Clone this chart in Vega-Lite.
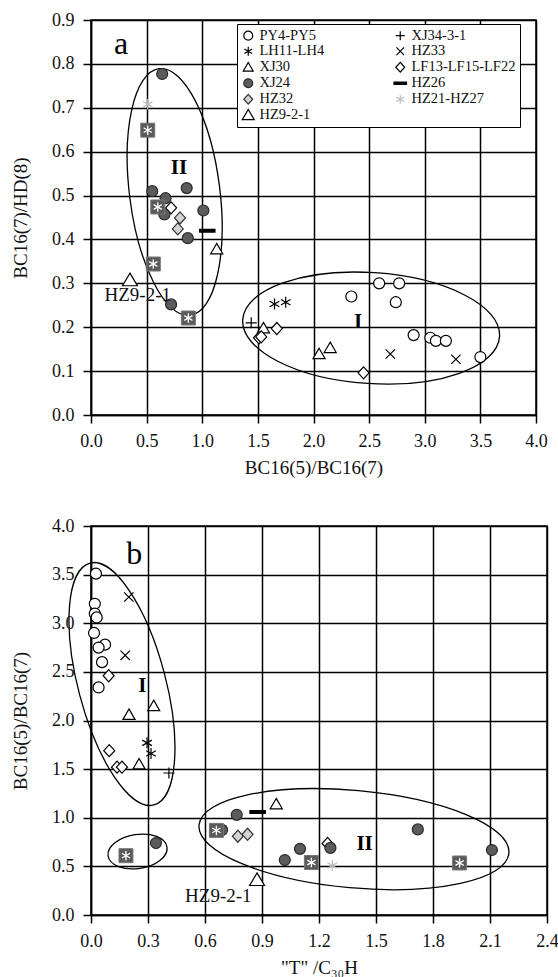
{
  "$schema": "https://vega.github.io/schema/vega-lite/v6.json",
  "padding": {"left": 10, "top": 10, "right": 0, "bottom": 5},
  "spacing": 38,
  "config": {
    "font": "Liberation Serif",
    "view": {"stroke": "black", "strokeWidth": 1.5},
    "axis": {"domainColor": "black", "domainWidth": 1.5, "tickColor": "black", "tickWidth": 1.5, "tickSize": 8, "grid": true, "gridColor": "black", "gridWidth": 1.5, "gridOpacity": 1, "labelFont": "Liberation Serif", "labelFontSize": 18, "labelColor": "#111111", "labelPadding": 9, "labelFlush": false, "labelOverlap": false, "titleFont": "Liberation Serif", "titleFontSize": 19, "titleFontWeight": "normal", "titleColor": "#111111"},
    "axisY": {"titlePadding": 21.5},
    "axisX": {"titlePadding": 8},
    "legend": {"labelFont": "Liberation Serif", "rowPadding": 0, "labelFontSize": 14.5}
  },
  "datasets": {
    "pts": [
      {"p": "a", "s": "PY4-PY5", "x": 2.34, "y": 0.27},
      {"p": "a", "s": "PY4-PY5", "x": 2.59, "y": 0.30},
      {"p": "a", "s": "PY4-PY5", "x": 2.77, "y": 0.30},
      {"p": "a", "s": "PY4-PY5", "x": 2.74, "y": 0.257},
      {"p": "a", "s": "PY4-PY5", "x": 2.90, "y": 0.182},
      {"p": "a", "s": "PY4-PY5", "x": 3.05, "y": 0.176},
      {"p": "a", "s": "PY4-PY5", "x": 3.10, "y": 0.169},
      {"p": "a", "s": "PY4-PY5", "x": 3.19, "y": 0.169},
      {"p": "a", "s": "PY4-PY5", "x": 3.50, "y": 0.132},
      {"p": "a", "s": "LH11-LH4", "x": 1.65, "y": 0.253},
      {"p": "a", "s": "LH11-LH4", "x": 1.75, "y": 0.257},
      {"p": "a", "s": "XJ30", "x": 1.13, "y": 0.378},
      {"p": "a", "s": "XJ30", "x": 1.55, "y": 0.198},
      {"p": "a", "s": "XJ30", "x": 2.05, "y": 0.139},
      {"p": "a", "s": "XJ30", "x": 2.15, "y": 0.153},
      {"p": "a", "s": "LF13-LF15-LF22", "x": 0.72, "y": 0.472},
      {"p": "a", "s": "LF13-LF15-LF22", "x": 1.51, "y": 0.176},
      {"p": "a", "s": "LF13-LF15-LF22", "x": 1.53, "y": 0.178},
      {"p": "a", "s": "LF13-LF15-LF22", "x": 1.67, "y": 0.197},
      {"p": "a", "s": "LF13-LF15-LF22", "x": 2.45, "y": 0.096},
      {"p": "a", "s": "HZ32", "x": 0.80, "y": 0.449},
      {"p": "a", "s": "HZ32", "x": 0.78, "y": 0.424},
      {"p": "a", "s": "XJ24", "x": 0.64, "y": 0.777},
      {"p": "a", "s": "XJ24", "x": 0.55, "y": 0.51},
      {"p": "a", "s": "XJ24", "x": 0.67, "y": 0.494},
      {"p": "a", "s": "XJ24", "x": 0.86, "y": 0.517},
      {"p": "a", "s": "XJ24", "x": 1.01, "y": 0.466},
      {"p": "a", "s": "XJ24", "x": 0.66, "y": 0.457},
      {"p": "a", "s": "XJ24", "x": 0.87, "y": 0.403},
      {"p": "a", "s": "XJ24", "x": 0.72, "y": 0.252},
      {"p": "a", "s": "HZ9-2-1", "x": 0.35, "y": 0.307},
      {"p": "a", "s": "XJ34-3-1", "x": 1.44, "y": 0.21},
      {"p": "a", "s": "HZ33", "x": 2.69, "y": 0.139},
      {"p": "a", "s": "HZ33", "x": 3.28, "y": 0.127},
      {"p": "a", "s": "HZ26", "x": 1.045, "y": 0.42},
      {"p": "a", "s": "HZ21-HZ27", "x": 0.51, "y": 0.708},
      {"p": "a", "s": "S", "x": 0.51, "y": 0.649},
      {"p": "a", "s": "S", "x": 0.60, "y": 0.474},
      {"p": "a", "s": "S", "x": 0.56, "y": 0.344},
      {"p": "a", "s": "S", "x": 0.875, "y": 0.221},
      {"p": "b", "s": "PY4-PY5", "x": 0.026, "y": 3.51},
      {"p": "b", "s": "PY4-PY5", "x": 0.02, "y": 3.20},
      {"p": "b", "s": "PY4-PY5", "x": 0.02, "y": 3.10},
      {"p": "b", "s": "PY4-PY5", "x": 0.03, "y": 3.06},
      {"p": "b", "s": "PY4-PY5", "x": 0.016, "y": 2.90},
      {"p": "b", "s": "PY4-PY5", "x": 0.074, "y": 2.78},
      {"p": "b", "s": "PY4-PY5", "x": 0.04, "y": 2.75},
      {"p": "b", "s": "PY4-PY5", "x": 0.058, "y": 2.60},
      {"p": "b", "s": "PY4-PY5", "x": 0.04, "y": 2.34},
      {"p": "b", "s": "HZ33", "x": 0.199, "y": 3.27},
      {"p": "b", "s": "HZ33", "x": 0.18, "y": 2.67},
      {"p": "b", "s": "LF13-LF15-LF22", "x": 0.093, "y": 2.46},
      {"p": "b", "s": "LF13-LF15-LF22", "x": 0.096, "y": 1.69},
      {"p": "b", "s": "LF13-LF15-LF22", "x": 0.137, "y": 1.52},
      {"p": "b", "s": "LF13-LF15-LF22", "x": 0.163, "y": 1.52},
      {"p": "b", "s": "LF13-LF15-LF22", "x": 1.245, "y": 0.735},
      {"p": "b", "s": "XJ30", "x": 0.2, "y": 2.06},
      {"p": "b", "s": "XJ30", "x": 0.33, "y": 2.15},
      {"p": "b", "s": "XJ30", "x": 0.253, "y": 1.55},
      {"p": "b", "s": "XJ30", "x": 0.975, "y": 1.14},
      {"p": "b", "s": "LH11-LH4", "x": 0.295, "y": 1.77},
      {"p": "b", "s": "LH11-LH4", "x": 0.316, "y": 1.66},
      {"p": "b", "s": "XJ34-3-1", "x": 0.41, "y": 1.46},
      {"p": "b", "s": "HZ32", "x": 0.773, "y": 0.81},
      {"p": "b", "s": "HZ32", "x": 0.824, "y": 0.83},
      {"p": "b", "s": "XJ24", "x": 0.342, "y": 0.74},
      {"p": "b", "s": "XJ24", "x": 0.767, "y": 1.03},
      {"p": "b", "s": "XJ24", "x": 0.69, "y": 0.875},
      {"p": "b", "s": "XJ24", "x": 1.02, "y": 0.565},
      {"p": "b", "s": "XJ24", "x": 1.10, "y": 0.68},
      {"p": "b", "s": "XJ24", "x": 1.26, "y": 0.69},
      {"p": "b", "s": "XJ24", "x": 1.72, "y": 0.88},
      {"p": "b", "s": "XJ24", "x": 2.11, "y": 0.668},
      {"p": "b", "s": "HZ26", "x": 0.877, "y": 1.06},
      {"p": "b", "s": "HZ9-2-1", "x": 0.874, "y": 0.36},
      {"p": "b", "s": "HZ21-HZ27", "x": 1.27, "y": 0.51},
      {"p": "b", "s": "S", "x": 0.184, "y": 0.61},
      {"p": "b", "s": "S", "x": 0.66, "y": 0.87},
      {"p": "b", "s": "S", "x": 1.16, "y": 0.54},
      {"p": "b", "s": "S", "x": 1.94, "y": 0.535}
    ],
    "ell": [
      {"p": "a", "e": "II", "x": 0.752, "y": 0.508},
      {"p": "a", "e": "I", "x": 2.518, "y": 0.198},
      {"p": "b", "e": "I", "x": 0.163, "y": 2.375},
      {"p": "b", "e": "small", "x": 0.245, "y": 0.653},
      {"p": "b", "e": "II", "x": 1.384, "y": 0.78}
    ],
    "notes": [
      {"p": "a", "k": "panel", "t": "a", "x": 0.27, "y": 0.845},
      {"p": "a", "k": "cluster", "t": "II", "x": 0.79, "y": 0.563},
      {"p": "a", "k": "cluster", "t": "I", "x": 2.40, "y": 0.212},
      {"p": "a", "k": "sample", "t": "HZ9-2-1", "x": 0.42, "y": 0.273},
      {"p": "b", "k": "panel", "t": "b", "x": 0.228, "y": 3.71},
      {"p": "b", "k": "cluster", "t": "I", "x": 0.27, "y": 2.35},
      {"p": "b", "k": "cluster", "t": "II", "x": 1.44, "y": 0.73},
      {"p": "b", "k": "sample", "t": "HZ9-2-1", "x": 0.67, "y": 0.195}
    ]
  },
  "resolve": {"scale": {"shape": "independent", "fill": "independent", "stroke": "independent"}, "legend": {"shape": "independent", "fill": "independent", "stroke": "independent"}},
  "vconcat": [
    {
      "width": 445,
      "height": 395,
      "encoding": {
        "x": {"field": "x", "type": "quantitative", "scale": {"domain": [0, 4], "nice": false, "zero": false}, "axis": {"title": "BC16(5)/BC16(7)", "values": [0, 0.5, 1, 1.5, 2, 2.5, 3, 3.5, 4], "format": ".1f", "labelFont": "Liberation Serif", "titleFont": "Liberation Serif"}},
        "y": {"field": "y", "type": "quantitative", "scale": {"domain": [0, 0.9], "nice": false, "zero": false}, "axis": {"title": "BC16(7)/HD(8)", "values": [0, 0.1, 0.2, 0.3, 0.4, 0.5, 0.6, 0.7, 0.8, 0.9], "format": ".1f", "labelFont": "Liberation Serif", "titleFont": "Liberation Serif"}}
      },
      "layer": [
        {
          "data": {"name": "ell"},
          "transform": [{"filter": "datum.p === 'a' && datum.e === 'II'"}],
          "mark": {"type": "point", "filled": false, "fill": "transparent", "stroke": "black", "strokeWidth": 1.3, "opacity": 1, "size": 61802, "angle": 352.8, "shape": "M0,-1C0.2008,-1,0.3636,-0.5523,0.3636,0C0.3636,0.5523,0.2008,1,0,1C-0.2008,1,-0.3636,0.5523,-0.3636,0C-0.3636,-0.5523,-0.2008,-1,0,-1Z"}
        },
        {
          "data": {"name": "ell"},
          "transform": [{"filter": "datum.p === 'a' && datum.e === 'I'"}],
          "mark": {"type": "point", "filled": false, "fill": "transparent", "stroke": "black", "strokeWidth": 1.3, "opacity": 1, "size": 66255, "angle": 3.8, "shape": "M-1,0C-1,-0.2382,-0.5523,-0.4312,0,-0.4312C0.5523,-0.4312,1,-0.2382,1,0C1,0.2382,0.5523,0.4312,0,0.4312C-0.5523,0.4312,-1,0.2382,-1,0Z"}
        },
        {
          "data": {"name": "pts"},
          "transform": [{"filter": "datum.p === 'a' && datum.s !== 'S'"}],
          "mark": {"type": "point", "filled": true, "size": 121, "strokeWidth": 1.2, "opacity": 1},
          "encoding": {
            "shape": {"field": "s", "type": "nominal", "legend": {"title": null, "orient": "none", "legendX": 146, "legendY": 4, "columns": 2, "columnPadding": 66, "rowPadding": 0, "padding": 4, "strokeColor": "black", "fillColor": "white", "labelFont": "Liberation Serif", "labelFontSize": 14.5, "labelColor": "#111111", "labelOffset": 4, "symbolSize": 80, "symbolStrokeWidth": 1.2, "labelLimit": 300}, "scale": {"domain": ["PY4-PY5", "LH11-LH4", "XJ30", "XJ24", "HZ32", "HZ9-2-1", "XJ34-3-1", "HZ33", "LF13-LF15-LF22", "HZ26", "HZ21-HZ27"], "range": ["circle", "M0,-1L0,1M-0.87,-0.5L0.87,0.5M-0.87,0.5L0.87,-0.5", "M0,-1.05L1.1,0.85L-1.1,0.85Z", "circle", "M0,-1.1L1,0L0,1.1L-1,0Z", "M0,-1.3L1.35,1L-1.35,1Z", "M-1,0L1,0M0,-1L0,1", "M-0.85,-0.85L0.85,0.85M-0.85,0.85L0.85,-0.85", "M0,-1.1L1,0L0,1.1L-1,0Z", "M-1.4,-0.25L1.4,-0.25L1.4,0.25L-1.4,0.25Z", "M0,-1L0,1M-0.87,-0.5L0.87,0.5M-0.87,0.5L0.87,-0.5"]}},
            "fill": {"field": "s", "type": "nominal", "legend": {"title": null, "orient": "none", "legendX": 146, "legendY": 4, "columns": 2, "columnPadding": 66, "rowPadding": 0, "padding": 4, "strokeColor": "black", "fillColor": "white", "labelFont": "Liberation Serif", "labelFontSize": 14.5, "labelColor": "#111111", "labelOffset": 4, "symbolSize": 80, "symbolStrokeWidth": 1.2, "labelLimit": 300}, "scale": {"domain": ["PY4-PY5", "LH11-LH4", "XJ30", "XJ24", "HZ32", "HZ9-2-1", "XJ34-3-1", "HZ33", "LF13-LF15-LF22", "HZ26", "HZ21-HZ27"], "range": ["white", "transparent", "white", "#5b5b5b", "#d3d3d3", "white", "transparent", "transparent", "white", "black", "transparent"]}},
            "stroke": {"field": "s", "type": "nominal", "legend": {"title": null, "orient": "none", "legendX": 146, "legendY": 4, "columns": 2, "columnPadding": 66, "rowPadding": 0, "padding": 4, "strokeColor": "black", "fillColor": "white", "labelFont": "Liberation Serif", "labelFontSize": 14.5, "labelColor": "#111111", "labelOffset": 4, "symbolSize": 80, "symbolStrokeWidth": 1.2, "labelLimit": 300}, "scale": {"domain": ["PY4-PY5", "LH11-LH4", "XJ30", "XJ24", "HZ32", "HZ9-2-1", "XJ34-3-1", "HZ33", "LF13-LF15-LF22", "HZ26", "HZ21-HZ27"], "range": ["black", "black", "black", "#2a2a2a", "#333333", "black", "black", "black", "black", "black", "#bdbdbd"]}}
          }
        },
        {
          "data": {"name": "pts"},
          "transform": [{"filter": "datum.p === 'a' && datum.s === 'S'"}],
          "mark": {"type": "point", "filled": true, "shape": "square", "size": 196, "fill": "#5a5a5a", "stroke": "#777777", "strokeWidth": 1, "opacity": 1}
        },
        {
          "data": {"name": "pts"},
          "transform": [{"filter": "datum.p === 'a' && datum.s === 'S'"}],
          "mark": {"type": "point", "filled": false, "fill": "transparent", "shape": "M0,-1L0,1M-0.87,-0.5L0.87,0.5M-0.87,0.5L0.87,-0.5", "size": 90, "stroke": "white", "strokeWidth": 1.3, "opacity": 1}
        },
        {
          "data": {"name": "notes"},
          "transform": [{"filter": "datum.p === 'a' && datum.k === 'panel'"}],
          "mark": {"type": "text", "font": "Liberation Serif", "fontSize": 32, "color": "black"},
          "encoding": {"text": {"field": "t"}}
        },
        {
          "data": {"name": "notes"},
          "transform": [{"filter": "datum.p === 'a' && datum.k === 'cluster'"}],
          "mark": {"type": "text", "font": "Liberation Serif", "fontSize": 21, "fontWeight": "bold", "color": "black"},
          "encoding": {"text": {"field": "t"}}
        },
        {
          "data": {"name": "notes"},
          "transform": [{"filter": "datum.p === 'a' && datum.k === 'sample'"}],
          "mark": {"type": "text", "font": "Liberation Serif", "fontSize": 19, "color": "#111111"},
          "encoding": {"text": {"field": "t"}}
        }
      ]
    },
    {
      "width": 456,
      "height": 389,
      "encoding": {
        "x": {"field": "x", "type": "quantitative", "scale": {"domain": [0, 2.4], "nice": false, "zero": false}, "axis": {"title": "\"T\" /C₃₀H", "values": [0, 0.3, 0.6, 0.9, 1.2, 1.5, 1.8, 2.1, 2.4], "format": ".1f", "labelFont": "Liberation Serif", "titleFont": "Liberation Serif"}},
        "y": {"field": "y", "type": "quantitative", "scale": {"domain": [0, 4], "nice": false, "zero": false}, "axis": {"title": "BC16(5)/BC16(7)", "values": [0, 0.5, 1, 1.5, 2, 2.5, 3, 3.5, 4], "format": ".1f", "labelFont": "Liberation Serif", "titleFont": "Liberation Serif"}}
      },
      "layer": [
        {
          "data": {"name": "ell"},
          "transform": [{"filter": "datum.p === 'b' && datum.e === 'I'"}],
          "mark": {"type": "point", "filled": false, "fill": "transparent", "stroke": "black", "strokeWidth": 1.3, "opacity": 1, "size": 62600, "angle": 345.2, "shape": "M0,-1C0.1929,-1,0.3493,-0.5523,0.3493,0C0.3493,0.5523,0.1929,1,0,1C-0.1929,1,-0.3493,0.5523,-0.3493,0C-0.3493,-0.5523,-0.1929,-1,0,-1Z"}
        },
        {
          "data": {"name": "ell"},
          "transform": [{"filter": "datum.p === 'b' && datum.e === 'small'"}],
          "mark": {"type": "point", "filled": false, "fill": "transparent", "stroke": "black", "strokeWidth": 1.3, "opacity": 1, "size": 3552, "angle": 351.3, "shape": "M-1,0C-1,-0.3151,-0.5523,-0.5705,0,-0.5705C0.5523,-0.5705,1,-0.3151,1,0C1,0.3151,0.5523,0.5705,0,0.5705C-0.5523,0.5705,-1,0.3151,-1,0Z"}
        },
        {
          "data": {"name": "ell"},
          "transform": [{"filter": "datum.p === 'b' && datum.e === 'II'"}],
          "mark": {"type": "point", "filled": false, "fill": "transparent", "stroke": "black", "strokeWidth": 1.3, "opacity": 1, "size": 96845, "angle": 5.2, "shape": "M-1,0C-1,-0.1729,-0.5523,-0.313,0,-0.313C0.5523,-0.313,1,-0.1729,1,0C1,0.1729,0.5523,0.313,0,0.313C-0.5523,0.313,-1,0.1729,-1,0Z"}
        },
        {
          "data": {"name": "pts"},
          "transform": [{"filter": "datum.p === 'b' && datum.s !== 'S'"}],
          "mark": {"type": "point", "filled": true, "size": 121, "strokeWidth": 1.2, "opacity": 1},
          "encoding": {
            "shape": {"field": "s", "type": "nominal", "legend": null, "scale": {"domain": ["PY4-PY5", "LH11-LH4", "XJ30", "XJ24", "HZ32", "HZ9-2-1", "XJ34-3-1", "HZ33", "LF13-LF15-LF22", "HZ26", "HZ21-HZ27"], "range": ["circle", "M0,-1L0,1M-0.87,-0.5L0.87,0.5M-0.87,0.5L0.87,-0.5", "M0,-1.05L1.1,0.85L-1.1,0.85Z", "circle", "M0,-1.1L1,0L0,1.1L-1,0Z", "M0,-1.3L1.35,1L-1.35,1Z", "M-1,0L1,0M0,-1L0,1", "M-0.85,-0.85L0.85,0.85M-0.85,0.85L0.85,-0.85", "M0,-1.1L1,0L0,1.1L-1,0Z", "M-1.4,-0.25L1.4,-0.25L1.4,0.25L-1.4,0.25Z", "M0,-1L0,1M-0.87,-0.5L0.87,0.5M-0.87,0.5L0.87,-0.5"]}},
            "fill": {"field": "s", "type": "nominal", "legend": null, "scale": {"domain": ["PY4-PY5", "LH11-LH4", "XJ30", "XJ24", "HZ32", "HZ9-2-1", "XJ34-3-1", "HZ33", "LF13-LF15-LF22", "HZ26", "HZ21-HZ27"], "range": ["white", "transparent", "white", "#5b5b5b", "#d3d3d3", "white", "transparent", "transparent", "white", "black", "transparent"]}},
            "stroke": {"field": "s", "type": "nominal", "legend": null, "scale": {"domain": ["PY4-PY5", "LH11-LH4", "XJ30", "XJ24", "HZ32", "HZ9-2-1", "XJ34-3-1", "HZ33", "LF13-LF15-LF22", "HZ26", "HZ21-HZ27"], "range": ["black", "black", "black", "#2a2a2a", "#333333", "black", "black", "black", "black", "black", "#bdbdbd"]}}
          }
        },
        {
          "data": {"name": "pts"},
          "transform": [{"filter": "datum.p === 'b' && datum.s === 'S'"}],
          "mark": {"type": "point", "filled": true, "shape": "square", "size": 196, "fill": "#5a5a5a", "stroke": "#777777", "strokeWidth": 1, "opacity": 1}
        },
        {
          "data": {"name": "pts"},
          "transform": [{"filter": "datum.p === 'b' && datum.s === 'S'"}],
          "mark": {"type": "point", "filled": false, "fill": "transparent", "shape": "M0,-1L0,1M-0.87,-0.5L0.87,0.5M-0.87,0.5L0.87,-0.5", "size": 90, "stroke": "white", "strokeWidth": 1.3, "opacity": 1}
        },
        {
          "data": {"name": "notes"},
          "transform": [{"filter": "datum.p === 'b' && datum.k === 'panel'"}],
          "mark": {"type": "text", "font": "Liberation Serif", "fontSize": 32, "color": "black"},
          "encoding": {"text": {"field": "t"}}
        },
        {
          "data": {"name": "notes"},
          "transform": [{"filter": "datum.p === 'b' && datum.k === 'cluster'"}],
          "mark": {"type": "text", "font": "Liberation Serif", "fontSize": 21, "fontWeight": "bold", "color": "black"},
          "encoding": {"text": {"field": "t"}}
        },
        {
          "data": {"name": "notes"},
          "transform": [{"filter": "datum.p === 'b' && datum.k === 'sample'"}],
          "mark": {"type": "text", "font": "Liberation Serif", "fontSize": 19, "color": "#111111"},
          "encoding": {"text": {"field": "t"}}
        }
      ]
    }
  ]
}
